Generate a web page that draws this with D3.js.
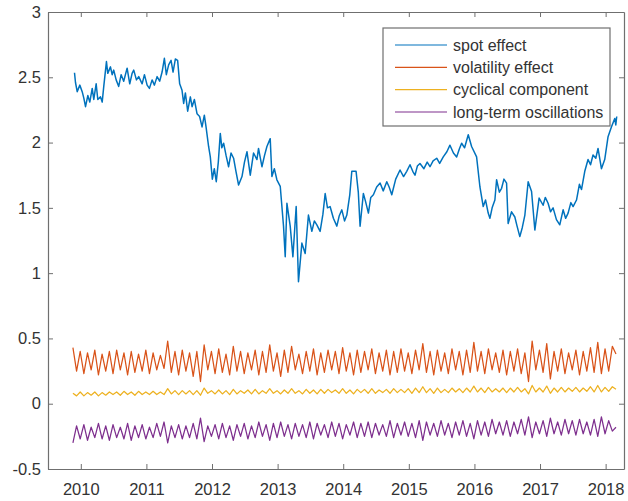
<!DOCTYPE html>
<html>
<head>
<meta charset="utf-8">
<script src="https://cdn.jsdelivr.net/npm/d3@7"></script>
<style>
  html, body { margin: 0; padding: 0; background: #ffffff; }
  svg { display: block; }
  text { font-family: "Liberation Sans", Arial, Helvetica, sans-serif; }
</style>
</head>
<body>
<svg id="chart" width="628" height="501"></svg>
<script>
// Decomposition of the series (decimal years on the x axis)
const xTickYears = [2010, 2011, 2012, 2013, 2014, 2015, 2016, 2017, 2018];
const yTickValues = [-0.5, 0, 0.5, 1, 1.5, 2, 2.5, 3];

const seriesNames = ["spot effect", "volatility effect", "cyclical component", "long-term oscillations"];
const seriesColors = ["#0072BD", "#D95319", "#EDB120", "#7E2F8E"];

// spot effect: observation dates (decimal years) and values
const spotYears = [
  2009.904, 2009.919, 2009.945, 2009.985, 2010.021, 2010.046, 2010.072, 2010.107, 2010.137, 2010.174,
  2010.198, 2010.234, 2010.259, 2010.300, 2010.326, 2010.350, 2010.391, 2010.411, 2010.452, 2010.478,
  2010.502, 2010.539, 2010.578, 2010.615, 2010.654, 2010.706, 2010.746, 2010.782, 2010.807, 2010.848,
  2010.883, 2010.935, 2010.970, 2011.011, 2011.046, 2011.087, 2011.122, 2011.163, 2011.202, 2011.239,
  2011.274, 2011.304, 2011.339, 2011.376, 2011.406, 2011.441, 2011.476, 2011.507, 2011.543, 2011.568,
  2011.594, 2011.629, 2011.670, 2011.696, 2011.731, 2011.772, 2011.811, 2011.848, 2011.883, 2011.909,
  2011.948, 2011.974, 2012.005, 2012.035, 2012.065, 2012.096, 2012.126, 2012.150, 2012.177, 2012.215,
  2012.253, 2012.290, 2012.329, 2012.365, 2012.405, 2012.457, 2012.495, 2012.533, 2012.583, 2012.633,
  2012.685, 2012.709, 2012.761, 2012.800, 2012.837, 2012.887, 2012.913, 2012.950, 2012.989, 2013.040,
  2013.090, 2013.116, 2013.142, 2013.192, 2013.233, 2013.283, 2013.318, 2013.370, 2013.420, 2013.470,
  2013.522, 2013.560, 2013.598, 2013.648, 2013.690, 2013.725, 2013.760, 2013.800, 2013.850, 2013.903,
  2013.940, 2013.979, 2014.020, 2014.055, 2014.100, 2014.131, 2014.196, 2014.230, 2014.257, 2014.307,
  2014.340, 2014.384, 2014.420, 2014.460, 2014.510, 2014.562, 2014.610, 2014.664, 2014.700, 2014.740,
  2014.800, 2014.866, 2014.920, 2014.968, 2015.018, 2015.060, 2015.094, 2015.130, 2015.170, 2015.230,
  2015.280, 2015.323, 2015.370, 2015.425, 2015.470, 2015.525, 2015.580, 2015.627, 2015.680, 2015.729,
  2015.770, 2015.805, 2015.850, 2015.906, 2015.957, 2016.033, 2016.084, 2016.134, 2016.170, 2016.210,
  2016.236, 2016.270, 2016.312, 2016.338, 2016.380, 2016.414, 2016.450, 2016.490, 2016.514, 2016.566,
  2016.616, 2016.650, 2016.692, 2016.730, 2016.769, 2016.819, 2016.871, 2016.921, 2016.986, 2017.047,
  2017.080, 2017.123, 2017.160, 2017.199, 2017.250, 2017.301, 2017.352, 2017.390, 2017.428, 2017.470,
  2017.504, 2017.556, 2017.600, 2017.632, 2017.682, 2017.732, 2017.770, 2017.808, 2017.850, 2017.884,
  2017.936, 2017.986, 2018.037, 2018.088, 2018.139, 2018.155, 2018.169
];
const spotValues = [
  2.535, 2.46, 2.39, 2.44, 2.39, 2.34, 2.275, 2.36, 2.31, 2.415,
  2.33, 2.45, 2.33, 2.35, 2.31, 2.43, 2.62, 2.53, 2.58, 2.52,
  2.555, 2.48, 2.43, 2.52, 2.47, 2.57, 2.45, 2.53, 2.555, 2.48,
  2.505, 2.45, 2.52, 2.44, 2.415, 2.48, 2.44, 2.505, 2.47, 2.54,
  2.645, 2.52, 2.595, 2.63, 2.54, 2.64, 2.63, 2.45, 2.40, 2.30,
  2.38, 2.24, 2.35, 2.275, 2.33, 2.22, 2.20, 2.12, 2.21, 2.12,
  1.97, 1.89, 1.72, 1.80, 1.70, 1.85, 2.07, 1.96, 1.995, 1.90,
  1.815, 1.92, 1.88, 1.78, 1.675, 1.74, 1.85, 1.93, 1.75, 1.92,
  1.87, 1.955, 1.815, 1.90, 1.97, 2.03, 1.74, 1.80, 1.715, 1.665,
  1.36, 1.125, 1.535, 1.36, 1.125, 1.51, 0.935, 1.23, 1.15, 1.445,
  1.32, 1.40, 1.37, 1.32, 1.45, 1.61, 1.50, 1.51, 1.42, 1.36,
  1.44, 1.485, 1.40, 1.445, 1.60, 1.78, 1.78, 1.62, 1.36, 1.61,
  1.55, 1.46, 1.58, 1.60, 1.66, 1.69, 1.63, 1.70, 1.66, 1.60,
  1.72, 1.79, 1.74, 1.78, 1.83, 1.78, 1.75, 1.82, 1.84, 1.80,
  1.85, 1.815, 1.86, 1.88, 1.84, 1.89, 1.93, 1.98, 1.92, 1.89,
  1.95, 1.995, 1.96, 2.06, 1.97, 1.89, 1.66, 1.51, 1.56, 1.46,
  1.42, 1.50, 1.56, 1.715, 1.62, 1.65, 1.72, 1.69, 1.38, 1.47,
  1.43, 1.36, 1.28, 1.35, 1.445, 1.70, 1.625, 1.33, 1.575, 1.52,
  1.58, 1.535, 1.47, 1.50, 1.41, 1.37, 1.485, 1.42, 1.46, 1.54,
  1.51, 1.56, 1.68, 1.64, 1.78, 1.87, 1.83, 1.905, 1.88, 1.955,
  1.80, 1.87, 2.045, 2.12, 2.185, 2.135, 2.20
];

// The three oscillating components share one regular sampling grid
const oscStartYear = 2009.88;
const oscStepYears = 1 / 18;

const volatilityValues = [
  0.43, 0.25, 0.40, 0.23, 0.39, 0.26, 0.41, 0.22, 0.38, 0.25,
  0.40, 0.23, 0.41, 0.26, 0.39, 0.22, 0.40, 0.24, 0.38, 0.25,
  0.41, 0.23, 0.39, 0.26, 0.37, 0.27, 0.48, 0.24, 0.40, 0.22,
  0.41, 0.25, 0.39, 0.21, 0.40, 0.17, 0.45, 0.26, 0.40, 0.23,
  0.42, 0.24, 0.38, 0.22, 0.44, 0.25, 0.40, 0.23, 0.39, 0.26,
  0.41, 0.22, 0.40, 0.24, 0.45, 0.25, 0.39, 0.21, 0.41, 0.24,
  0.44, 0.26, 0.38, 0.23, 0.40, 0.25, 0.42, 0.22, 0.39, 0.24,
  0.41, 0.26, 0.40, 0.23, 0.43, 0.25, 0.39, 0.22, 0.41, 0.24,
  0.40, 0.26, 0.42, 0.23, 0.39, 0.25, 0.41, 0.22, 0.40, 0.24,
  0.42, 0.25, 0.39, 0.23, 0.41, 0.26, 0.46, 0.24, 0.40, 0.22,
  0.41, 0.25, 0.39, 0.23, 0.42, 0.26, 0.40, 0.22, 0.41, 0.24,
  0.47, 0.25, 0.40, 0.23, 0.42, 0.26, 0.39, 0.24, 0.41, 0.22,
  0.40, 0.25, 0.42, 0.23, 0.39, 0.17, 0.48, 0.26, 0.41, 0.24,
  0.46, 0.19, 0.40, 0.25, 0.42, 0.23, 0.39, 0.26, 0.41, 0.22,
  0.40, 0.25, 0.43, 0.24, 0.47, 0.23, 0.42, 0.25, 0.44, 0.38
];

const cyclicalValues = [
  0.08, 0.06, 0.09, 0.06, 0.085, 0.065, 0.09, 0.06, 0.085, 0.065,
  0.09, 0.07, 0.09, 0.065, 0.095, 0.07, 0.09, 0.065, 0.095, 0.07,
  0.09, 0.07, 0.095, 0.07, 0.09, 0.07, 0.115, 0.075, 0.10, 0.07,
  0.10, 0.075, 0.10, 0.07, 0.10, 0.065, 0.12, 0.08, 0.10, 0.075,
  0.105, 0.075, 0.10, 0.07, 0.11, 0.075, 0.10, 0.08, 0.105, 0.075,
  0.11, 0.075, 0.10, 0.08, 0.115, 0.08, 0.10, 0.075, 0.105, 0.08,
  0.115, 0.08, 0.10, 0.075, 0.11, 0.08, 0.105, 0.075, 0.11, 0.08,
  0.11, 0.085, 0.105, 0.08, 0.115, 0.08, 0.105, 0.075, 0.11, 0.085,
  0.11, 0.08, 0.115, 0.08, 0.105, 0.085, 0.11, 0.08, 0.115, 0.085,
  0.11, 0.085, 0.115, 0.08, 0.12, 0.085, 0.13, 0.085, 0.115, 0.08,
  0.12, 0.085, 0.11, 0.085, 0.12, 0.09, 0.115, 0.085, 0.12, 0.09,
  0.135, 0.09, 0.12, 0.085, 0.125, 0.09, 0.115, 0.09, 0.12, 0.085,
  0.12, 0.09, 0.125, 0.09, 0.115, 0.075, 0.14, 0.09, 0.12, 0.09,
  0.135, 0.08, 0.12, 0.09, 0.125, 0.09, 0.12, 0.095, 0.125, 0.09,
  0.12, 0.095, 0.13, 0.09, 0.14, 0.09, 0.125, 0.095, 0.13, 0.11
];

const longTermValues = [
  -0.30, -0.17, -0.27, -0.16, -0.28, -0.18, -0.26, -0.15, -0.27, -0.17,
  -0.28, -0.16, -0.26, -0.18, -0.27, -0.15, -0.28, -0.17, -0.26, -0.16,
  -0.27, -0.18, -0.26, -0.15, -0.25, -0.14, -0.30, -0.17, -0.26, -0.16,
  -0.27, -0.17, -0.26, -0.15, -0.27, -0.11, -0.29, -0.17, -0.25, -0.16,
  -0.27, -0.15, -0.26, -0.17, -0.28, -0.16, -0.25, -0.15, -0.27, -0.17,
  -0.26, -0.14, -0.25, -0.16, -0.28, -0.15, -0.26, -0.14, -0.25, -0.16,
  -0.27, -0.15, -0.25, -0.16, -0.26, -0.14, -0.27, -0.15, -0.24, -0.16,
  -0.26, -0.14, -0.25, -0.15, -0.27, -0.16, -0.24, -0.14, -0.26, -0.15,
  -0.25, -0.14, -0.26, -0.15, -0.24, -0.16, -0.25, -0.13, -0.26, -0.15,
  -0.24, -0.14, -0.25, -0.15, -0.26, -0.13, -0.28, -0.14, -0.24, -0.15,
  -0.25, -0.13, -0.24, -0.15, -0.26, -0.14, -0.24, -0.13, -0.25, -0.15,
  -0.27, -0.13, -0.24, -0.14, -0.25, -0.12, -0.23, -0.14, -0.24, -0.13,
  -0.25, -0.14, -0.23, -0.12, -0.24, -0.10, -0.26, -0.14, -0.23, -0.13,
  -0.25, -0.11, -0.23, -0.14, -0.24, -0.12, -0.23, -0.13, -0.24, -0.12,
  -0.23, -0.14, -0.24, -0.12, -0.25, -0.10, -0.23, -0.13, -0.21, -0.18
];

// ---- layout ----
const svg = d3.select("#chart");
const plot = { left: 48, right: 624, top: 12, bottom: 469 };

const x = d3.scaleLinear().domain([2009.5, 2018.28]).range([plot.left, plot.right]);
const y = d3.scaleLinear().domain([-0.5, 3]).range([plot.bottom, plot.top]);

const axisColor = "#6f6f6f";
const labelColor = "#333333";

// plot area background
svg.append("rect")
  .attr("x", plot.left).attr("y", plot.top)
  .attr("width", plot.right - plot.left).attr("height", plot.bottom - plot.top)
  .attr("fill", "#ffffff");

// ---- series ----
const oscSeries = [volatilityValues, cyclicalValues, longTermValues].map(vals =>
  vals.map((v, i) => ({ t: oscStartYear + i * oscStepYears, v }))
);
const spotSeries = spotValues.map((v, i) => ({ t: spotYears[i], v }));
const allSeries = [spotSeries, ...oscSeries];

const line = d3.line().x(d => x(d.t)).y(d => y(d.v));

svg.append("g")
  .selectAll("path")
  .data(allSeries)
  .join("path")
  .attr("d", line)
  .attr("fill", "none")
  .attr("stroke", (d, i) => seriesColors[i])
  .attr("stroke-width", (d, i) => i === 0 ? 1.5 : 1.25)
  .attr("stroke-linejoin", "round");

// ---- axes (box with inward ticks on all four sides) ----
function styleAxis(g) {
  g.selectAll(".domain").attr("stroke", axisColor).attr("stroke-width", 1.2);
  g.selectAll(".tick line").attr("stroke", axisColor).attr("stroke-width", 1);
  g.selectAll(".tick text")
    .attr("fill", labelColor)
    .attr("font-size", 16.5)
    .attr("font-family", "'Liberation Sans', Arial, Helvetica, sans-serif");
}

svg.append("g")
  .attr("transform", `translate(0,${plot.bottom})`)
  .call(d3.axisBottom(x).tickValues(xTickYears).tickFormat(d3.format("d"))
    .tickSizeInner(-5).tickSizeOuter(0).tickPadding(14))
  .call(styleAxis);

svg.append("g")
  .attr("transform", `translate(0,${plot.top})`)
  .call(d3.axisTop(x).tickValues(xTickYears).tickFormat(() => "")
    .tickSizeInner(-5).tickSizeOuter(0))
  .call(styleAxis);

svg.append("g")
  .attr("transform", `translate(${plot.left},0)`)
  .call(d3.axisLeft(y).tickValues(yTickValues).tickFormat(d => String(d))
    .tickSizeInner(-5).tickSizeOuter(0).tickPadding(7))
  .call(styleAxis);

svg.append("g")
  .attr("transform", `translate(${plot.right},0)`)
  .call(d3.axisRight(y).tickValues(yTickValues).tickFormat(() => "")
    .tickSizeInner(-5).tickSizeOuter(0))
  .call(styleAxis);

// ---- legend ----
const legend = svg.append("g").attr("transform", "translate(383,28)");
legend.append("rect")
  .attr("x", 0).attr("y", 0).attr("width", 227).attr("height", 98)
  .attr("fill", "#ffffff").attr("stroke", axisColor).attr("stroke-width", 1.2);

const rowY = d3.scalePoint().domain(seriesNames).range([17, 84]);
const entries = legend.selectAll("g.entry")
  .data(seriesNames)
  .join("g")
  .attr("class", "entry")
  .attr("transform", d => `translate(0,${rowY(d)})`);

entries.append("line")
  .attr("x1", 12).attr("x2", 64).attr("y1", 0).attr("y2", 0)
  .attr("stroke", (d, i) => seriesColors[i]).attr("stroke-width", 1.1);

entries.append("text")
  .attr("x", 70).attr("y", 0).attr("dy", "0.35em")
  .attr("font-size", 16)
  .attr("fill", labelColor)
  .text(d => d);
</script>
</body>
</html>
